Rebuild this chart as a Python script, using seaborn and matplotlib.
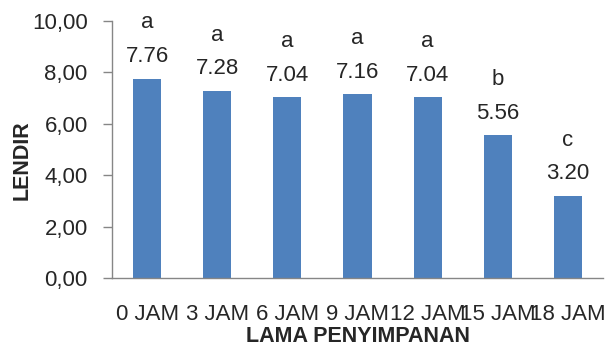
import numpy as np
import matplotlib
matplotlib.use("Agg")
import matplotlib.pyplot as plt
import seaborn as sns
import pandas as pd

# Data
categories = ["0 JAM", "3 JAM", "6 JAM", "9 JAM", "12 JAM", "15 JAM", "18 JAM"]
lendir = [7.76, 7.28, 7.04, 7.16, 7.04, 5.56, 3.20]
notasi = ["a", "a", "a", "a", "a", "b", "c"]

df = pd.DataFrame({"lama": categories, "lendir": lendir})

sns.set_style("white")
plt.rcParams["font.family"] = ["Liberation Sans", "DejaVu Sans"]

fig = plt.figure(figsize=(6.16, 3.47), dpi=100)
ax = fig.add_axes([112 / 616, 1 - 278 / 347, 491 / 616, 257 / 347])

sns.barplot(data=df, x="lama", y="lendir", color="#4F81BD", width=0.4,
            saturation=1, ax=ax, edgecolor="none")

ax.set_xlim(-0.5, len(categories) - 0.5)
ax.set_ylim(0, 10)
ax.set_yticks(np.arange(0, 10.01, 2))
ax.set_yticklabels([f"{v:.2f}".replace(".", ",") for v in np.arange(0, 10.01, 2)])

# value and letter labels above bars
for i, (v, n) in enumerate(zip(lendir, notasi)):
    ax.text(i, v + 0.64, f"{v:.2f}", ha="center", va="baseline", fontsize=16)
    ax.text(i, v + 1.95, n, ha="center", va="baseline", fontsize=16)

for side in ["top", "right"]:
    ax.spines[side].set_visible(False)
for side in ["left", "bottom"]:
    ax.spines[side].set_color("#868686")
    ax.spines[side].set_linewidth(1.0)

ax.tick_params(axis="y", left=True, length=6.5, width=1, color="#868686",
               labelsize=16, pad=11)
ax.tick_params(axis="x", bottom=False, labelsize=16, pad=15)

ax.set_xlabel("LAMA PENYIMPANAN", fontsize=15.5, fontweight="bold", labelpad=1)
ax.set_ylabel("LENDIR", fontsize=15.5, fontweight="bold")
ax.yaxis.set_label_coords(-79 / 491, (278 - 160) / 257)

fig.savefig("out.png", dpi=100)
